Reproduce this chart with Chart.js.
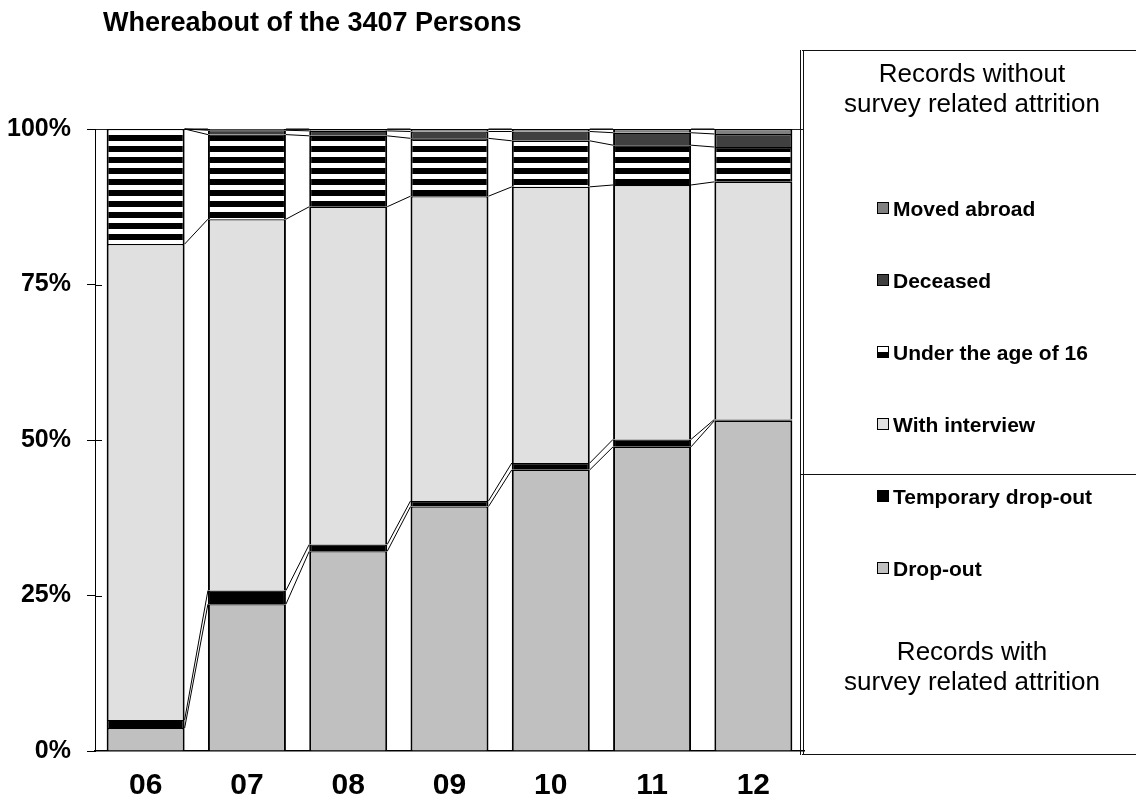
<!DOCTYPE html>
<html>
<head>
<meta charset="utf-8">
<script src="https://cdn.jsdelivr.net/npm/chart.js@4.4.1/dist/chart.umd.min.js"></script>
<style>
html,body{margin:0;padding:0;background:#fff;}
#wrap{position:relative;width:1136px;height:803px;overflow:hidden;font-family:"Liberation Sans",Arial,sans-serif;color:#000;}
#c{position:absolute;left:0;top:0;}
#title{position:absolute;left:103px;top:9px;font-weight:bold;font-size:27px;line-height:27px;white-space:nowrap;}
#box{position:absolute;left:800px;top:50px;width:400px;height:705px;border-top:1.5px solid #111;border-bottom:1.5px solid #111;border-left:4px double #111;box-sizing:border-box;}
#divider{position:absolute;left:800px;top:474px;width:400px;height:0;border-top:1.5px solid #111;}
.grp{position:absolute;left:822px;width:300px;text-align:center;font-size:26px;line-height:30px;}
.item{position:absolute;left:877px;height:21px;}
.sw{position:absolute;left:0;width:12px;height:12px;box-sizing:border-box;border:1.4px solid #000;}
.lab{position:absolute;left:16px;font-size:21px;line-height:21px;font-weight:bold;white-space:nowrap;}
</style>
</head>
<body>
<div id="wrap">
  <canvas id="c" width="1136" height="803"></canvas>
  <div id="title">Whereabout of the 3407 Persons</div>
  <div id="box"></div>
  <div id="divider"></div>
  <div class="grp" style="top:58px;">Records without<br>survey related attrition</div>
  <div class="grp" style="top:636px;">Records with<br>survey related attrition</div>
  <div id="legend"></div>
</div>
<script>
// ---- data (percent of the 3407 persons) ----
const years = ["06", "07", "08", "09", "10", "11", "12"];
const dropOut        = [3.7, 23.6, 32.1, 39.3, 45.2, 48.9, 53.1];
const tempDropOut    = [1.3,  2.2,  1.1,  0.9,  1.1,  1.2,  0.2];
const withInterview  = [76.5, 59.7, 54.3, 49.0, 44.4, 40.9, 38.2];
const under16        = [18.5, 13.6, 11.4,  9.3,  7.4,  6.4,  5.6];
const deceased       = [0.0,  0.7,  0.8,  1.1,  1.5,  2.0,  2.1];
const movedAbroad    = [0.0,  0.2,  0.3,  0.4,  0.4,  0.6,  0.8];
const yTicks = [0, 25, 50, 75, 100];
const seriesNames = ["Drop-out", "Temporary drop-out", "With interview", "Under the age of 16", "Deceased", "Moved abroad"];

// stripe pattern for "Under the age of 16"
function stripePattern(){
  const c = document.createElement('canvas');
  c.width = 4; c.height = 11;
  const x = c.getContext('2d');
  x.fillStyle = '#fff'; x.fillRect(0,0,4,11);
  x.fillStyle = '#000'; x.fillRect(0,3,4,6);
  return x.createPattern(c, 'repeat');
}
const fills = ['#c0c0c0', '#000000', '#e0e0e0', stripePattern(), '#404040', '#808080'];
const swatchCss = ['#c0c0c0', '#000000', '#e0e0e0', 'linear-gradient(#fff 50%, #000 50%)', '#404040', '#808080'];
const seriesData = [dropOut, tempDropOut, withInterview, under16, deceased, movedAbroad];

// HTML legend (reverse order of stacking)
const legend = document.getElementById('legend');
for (let k = 0; k < seriesNames.length; k++) {
  const idx = seriesNames.length - 1 - k;
  const cy = 208 + k * 72;
  const it = document.createElement('div');
  it.className = 'item';
  it.style.top = (cy - 10.5) + 'px';
  const sw = document.createElement('div');
  sw.className = 'sw';
  sw.style.top = (10.5 - 6) + 'px';
  sw.style.background = swatchCss[idx];
  const lb = document.createElement('div');
  lb.className = 'lab';
  lb.style.top = '0px';
  lb.textContent = seriesNames[idx];
  it.appendChild(sw); it.appendChild(lb);
  legend.appendChild(it);
}

const FONT = "'Liberation Sans', Arial, sans-serif";
Chart.defaults.font.family = FONT;
Chart.defaults.color = '#000';

const seriesLines = {
  id: 'seriesLines',
  afterDatasetsDraw(chart) {
    const ctx = chart.ctx;
    ctx.save();
    ctx.strokeStyle = '#000';
    ctx.lineWidth = 1;
    chart.data.datasets.forEach((ds, di) => {
      const meta = chart.getDatasetMeta(di);
      for (let i = 0; i < meta.data.length - 1; i++) {
        const a = meta.data[i], b = meta.data[i + 1];
        ctx.beginPath();
        ctx.moveTo(a.x + a.width / 2, a.y);
        ctx.lineTo(b.x - b.width / 2, b.y);
        ctx.stroke();
      }
    });
    ctx.restore();
  }
};
const innerTicks = {
  id: 'innerTicks',
  afterDraw(chart) {
    const y = chart.scales.y, ctx = chart.ctx;
    ctx.save();
    ctx.strokeStyle = '#000';
    ctx.lineWidth = 1;
    yTicks.forEach(v => {
      if (v === 0 || v === 100) return;
      const py = Math.round(y.getPixelForValue(v)) + 0.5;
      ctx.beginPath();
      ctx.moveTo(y.right, py);
      ctx.lineTo(y.right + 7, py);
      ctx.stroke();
    });
    ctx.restore();
  }
};

new Chart(document.getElementById('c'), {
  type: 'bar',
  data: {
    labels: years,
    datasets: seriesData.map((d, i) => ({
      label: seriesNames[i],
      data: d,
      backgroundColor: fills[i],
      borderColor: '#000',
      borderWidth: { top: 1.2, left: 2, right: 2, bottom: 0 },
      borderSkipped: false,
      barPercentage: 0.77,
      categoryPercentage: 1.0
    }))
  },
  options: {
    responsive: false,
    animation: false,
    devicePixelRatio: 1,
    layout: { padding: { left: 0, top: 129, right: 332, bottom: 0 } },
    plugins: { legend: { display: false }, tooltip: { enabled: false }, title: { display: false } },
    scales: {
      x: {
        stacked: true,
        grid: { display: false, drawTicks: false },
        border: { display: true, color: '#000', width: 1.5 },
        ticks: { font: { size: 30, weight: 'bold' }, color: '#000', padding: 17 },
        afterFit(s) { s.height = 52; }
      },
      y: {
        stacked: true,
        min: 0, max: 100,
        afterBuildTicks(s) { s.ticks = yTicks.map(v => ({ value: v })); },
        ticks: { callback: v => v + '%', font: { size: 25, weight: 'bold' }, color: '#000', padding: 16 },
        grid: {
          color: c => (c.tick && c.tick.value === 100) ? '#222' : 'rgba(0,0,0,0)',
          tickColor: '#000', tickLength: 8, lineWidth: 1
        },
        border: { display: true, color: '#000', width: 1 },
        afterFit(s) { s.width = 95; }
      }
    }
  },
  plugins: [seriesLines, innerTicks]
});
</script>
</body>
</html>
